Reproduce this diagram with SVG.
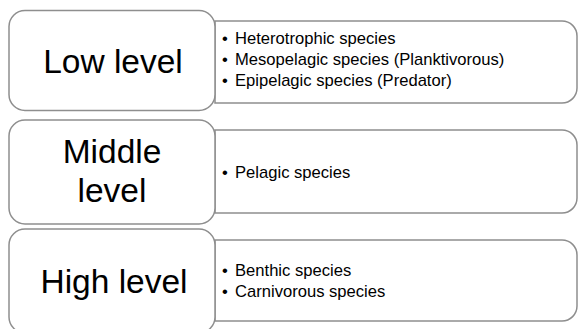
<svg xmlns="http://www.w3.org/2000/svg" width="579" height="329" viewBox="0 0 579 329">
<style>
.box{fill:#fff;stroke:#8e8e8e;stroke-width:1.5}
.lvl{font-family:"Liberation Sans",Arial,sans-serif;font-size:33.5px;fill:#000;text-anchor:middle}
.itm{font-family:"Liberation Sans",Arial,sans-serif;font-size:16.6px;fill:#000}
.bul{font-family:"Liberation Sans",Arial,sans-serif;font-size:16.6px;fill:#000}
</style>
<rect width="579" height="329" fill="#fff"/>
<g id="detail-low">
<path class="box" d="M215,21 H562 A15,15 0 0 1 577,36 V88 A15,15 0 0 1 562,103 H215 Z"/>
<text class="bul" x="222" y="44">•</text><text class="itm" x="235" y="44">Heterotrophic species</text>
<text class="bul" x="222" y="65">•</text><text class="itm" x="235" y="65">Mesopelagic species (Planktivorous)</text>
<text class="bul" x="222" y="86">•</text><text class="itm" x="235" y="86">Epipelagic species (Predator)</text>
</g>
<g id="level-low">
<rect class="box" x="9" y="10.5" width="206" height="100" rx="16"/>
<text class="lvl" x="113" y="73">Low level</text>
</g>
<g id="detail-middle">
<path class="box" d="M215,130 H562 A15,15 0 0 1 577,145 V198 A15,15 0 0 1 562,213 H215 Z"/>
<text class="bul" x="222" y="178">•</text><text class="itm" x="235" y="178">Pelagic species</text>
</g>
<g id="level-middle">
<rect class="box" x="9" y="120" width="206" height="104" rx="16"/>
<text class="lvl" x="112" y="163">Middle</text>
<text class="lvl" x="112" y="202">level</text>
</g>
<g id="detail-high">
<path class="box" d="M215,240 H562 A15,15 0 0 1 577,255 V306 A15,15 0 0 1 562,321 H215 Z"/>
<text class="bul" x="222" y="276">•</text><text class="itm" x="235" y="276">Benthic species</text>
<text class="bul" x="222" y="297">•</text><text class="itm" x="235" y="297">Carnivorous species</text>
</g>
<g id="level-high">
<rect class="box" x="9" y="229" width="206" height="104" rx="16"/>
<text class="lvl" x="114" y="293">High level</text>
</g>
<g id="connectors"></g>
</svg>
